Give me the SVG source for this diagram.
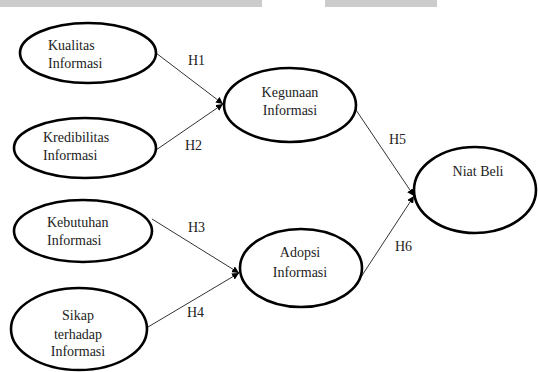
<svg xmlns="http://www.w3.org/2000/svg" width="538" height="372" viewBox="0 0 538 372">
<style>
.node ellipse{fill:#fff;stroke:#000;stroke-width:2.6}
.edge{stroke:#333;stroke-width:1;fill:none;marker-end:url(#ah)}
.t{font-family:'Liberation Serif','Times New Roman',serif;font-size:28px;fill:#222}
.c{text-anchor:middle}
</style>
<defs>
<marker id="ah" viewBox="0 0 10 10" refX="10" refY="5" markerWidth="7" markerHeight="7" markerUnits="userSpaceOnUse" orient="auto">
<path d="M0,0 L10,5 L0,10 z" fill="#000"/>
</marker>
</defs>
<rect x="0" y="0" width="262" height="7" fill="#cccccc"/>
<rect x="325" y="0" width="112" height="7" fill="#cccccc"/>
<g id="connectors">
<line class="edge" x1="156" y1="53" x2="223" y2="104"/>
<line class="edge" x1="156" y1="150" x2="223" y2="104"/>
<line class="edge" x1="152" y1="219" x2="239" y2="273"/>
<line class="edge" x1="148" y1="327" x2="239" y2="273"/>
<line class="edge" x1="354" y1="107" x2="414" y2="196"/>
<line class="edge" x1="361" y1="277" x2="414" y2="196"/>
<g transform="scale(0.5)">
<text class="t" x="376" y="130">H1</text>
<text class="t" x="370" y="300">H2</text>
<text class="t" x="376" y="464">H3</text>
<text class="t" x="374" y="634">H4</text>
<text class="t" x="778" y="288">H5</text>
<text class="t" x="790" y="502">H6</text>
</g>
</g>
<g id="kualitas" class="node">
<ellipse cx="88" cy="53" rx="68" ry="30"/>
<g transform="scale(0.5)">
<text class="t" x="96" y="100">Kualitas</text>
<text class="t" x="96" y="136">Informasi</text>
</g>
</g>
<g id="kredibilitas" class="node">
<ellipse cx="85" cy="148" rx="71" ry="30"/>
<g transform="scale(0.5)">
<text class="t" x="86" y="284">Kredibilitas</text>
<text class="t" x="86" y="320">Informasi</text>
</g>
</g>
<g id="kebutuhan" class="node">
<ellipse cx="83" cy="231" rx="69" ry="31"/>
<g transform="scale(0.5)">
<text class="t" x="94" y="454">Kebutuhan</text>
<text class="t" x="94" y="490">Informasi</text>
</g>
</g>
<g id="sikap" class="node">
<ellipse cx="79" cy="329" rx="68" ry="41"/>
<g transform="scale(0.5)">
<text class="t c" x="156" y="640">Sikap</text>
<text class="t c" x="156" y="677">terhadap</text>
<text class="t c" x="156" y="711">Informasi</text>
</g>
</g>
<g id="kegunaan" class="node">
<ellipse cx="290" cy="105" rx="66" ry="37"/>
<g transform="scale(0.5)">
<text class="t c" x="580" y="194">Kegunaan</text>
<text class="t c" x="580" y="230">Informasi</text>
</g>
</g>
<g id="adopsi" class="node">
<ellipse cx="301" cy="268" rx="61" ry="39"/>
<g transform="scale(0.5)">
<text class="t c" x="600" y="514">Adopsi</text>
<text class="t c" x="600" y="554">Informasi</text>
</g>
</g>
<g id="niat" class="node">
<ellipse cx="475" cy="190" rx="61" ry="43"/>
<g transform="scale(0.5)">
<text class="t c" x="956" y="352">Niat Beli</text>
</g>
</g>
</svg>
